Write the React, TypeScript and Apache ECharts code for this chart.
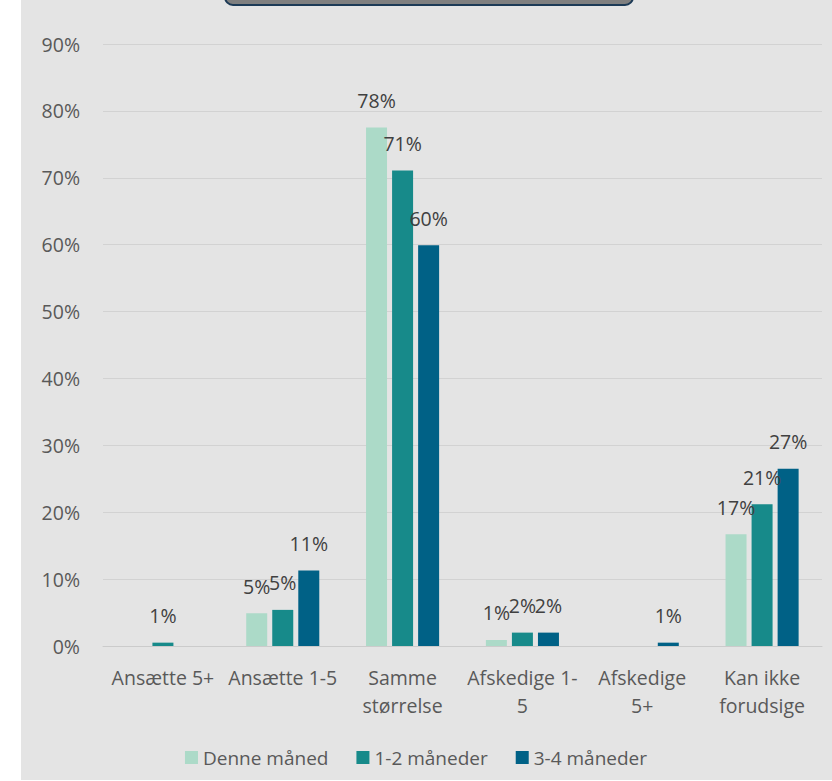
import React, { useEffect, useRef } from "react";
import * as echarts from "echarts";

const categories = [
  "Ansætte 5+",
  "Ansætte 1-5",
  "Samme\nstørrelse",
  "Afskedige 1-\n5",
  "Afskedige\n5+",
  "Kan ikke\nforudsige",
];
const seriesNames = ["Denne måned", "1-2 måneder", "3-4 måneder"];
const denneMaaned = [0, 4.9, 77.5, 0.9, 0, 16.7];
const en2Maaneder = [0.5, 5.4, 71.1, 2.0, 0, 21.2];
const tre4Maaneder = [0, 11.3, 59.9, 2.0, 0.5, 26.5];
const colors = ["#acdac8", "#178a8a", "#006186"];
const yTicks = [0, 10, 20, 30, 40, 50, 60, 70, 80, 90];

const FONT = "'Open Sans', sans-serif";
const FS = 19.5;

export default function App() {
  const ref = useRef<HTMLDivElement>(null);
  useEffect(() => {
    if (!ref.current) return;
    const chart = echarts.init(ref.current, null, { renderer: "svg" });
    const data = [denneMaaned, en2Maaneder, tre4Maaneder];
    chart.setOption({
      animation: false,
      textStyle: { fontFamily: FONT },
      graphic: [
        {
          type: "rect",
          z: -10,
          shape: { x: 21, y: 0, width: 811, height: 780 },
          style: { fill: "#e4e4e4" },
          silent: true,
        },
        {
          type: "rect",
          z: 10,
          shape: { x: 225, y: -25, width: 408, height: 30, r: 8 },
          style: { fill: "#7f7f7f", stroke: "#1c3a56", lineWidth: 2 },
          silent: true,
        },
      ],
      grid: { left: 103, right: 10, top: 44, bottom: 135, containLabel: false },
      legend: {
        bottom: 9,
        left: "center",
        itemWidth: 13,
        itemHeight: 13,
        itemGap: 28,
        icon: "rect",
        textStyle: { fontSize: 19, color: "#595959", fontFamily: FONT },
        data: seriesNames,
      },
      xAxis: {
        type: "category",
        data: categories,
        axisLine: { lineStyle: { color: "#cbcbcb", width: 1 } },
        axisTick: { show: false },
        axisLabel: {
          fontSize: FS,
          color: "#595959",
          lineHeight: 28,
          margin: 17,
          interval: 0,
          fontFamily: FONT,
        },
      },
      yAxis: {
        type: "value",
        min: 0,
        max: yTicks[yTicks.length - 1],
        interval: 10,
        axisLine: { show: false },
        axisTick: { show: false },
        splitLine: { lineStyle: { color: "#d2d2d2", width: 1 } },
        axisLabel: {
          fontSize: FS,
          color: "#595959",
          margin: 23,
          fontFamily: FONT,
          formatter: (v: number) => v + "%",
        },
      },
      series: seriesNames.map((name, i) => ({
        name,
        type: "bar",
        data: data[i],
        barWidth: 21,
        barGap: "24%",
        itemStyle: { color: colors[i] },
        label: {
          show: true,
          position: "top",
          distance: 17,
          fontSize: FS,
          color: "#404040",
          fontFamily: FONT,
          formatter: (p: any) => (p.value ? Math.round(p.value) + "%" : ""),
        },
      })),
    });
    return () => chart.dispose();
  }, []);
  return (
    <div
      ref={ref}
      style={{ position: "fixed", left: 0, top: 0, width: 832, height: 781, background: "#ffffff" }}
    />
  );
}
